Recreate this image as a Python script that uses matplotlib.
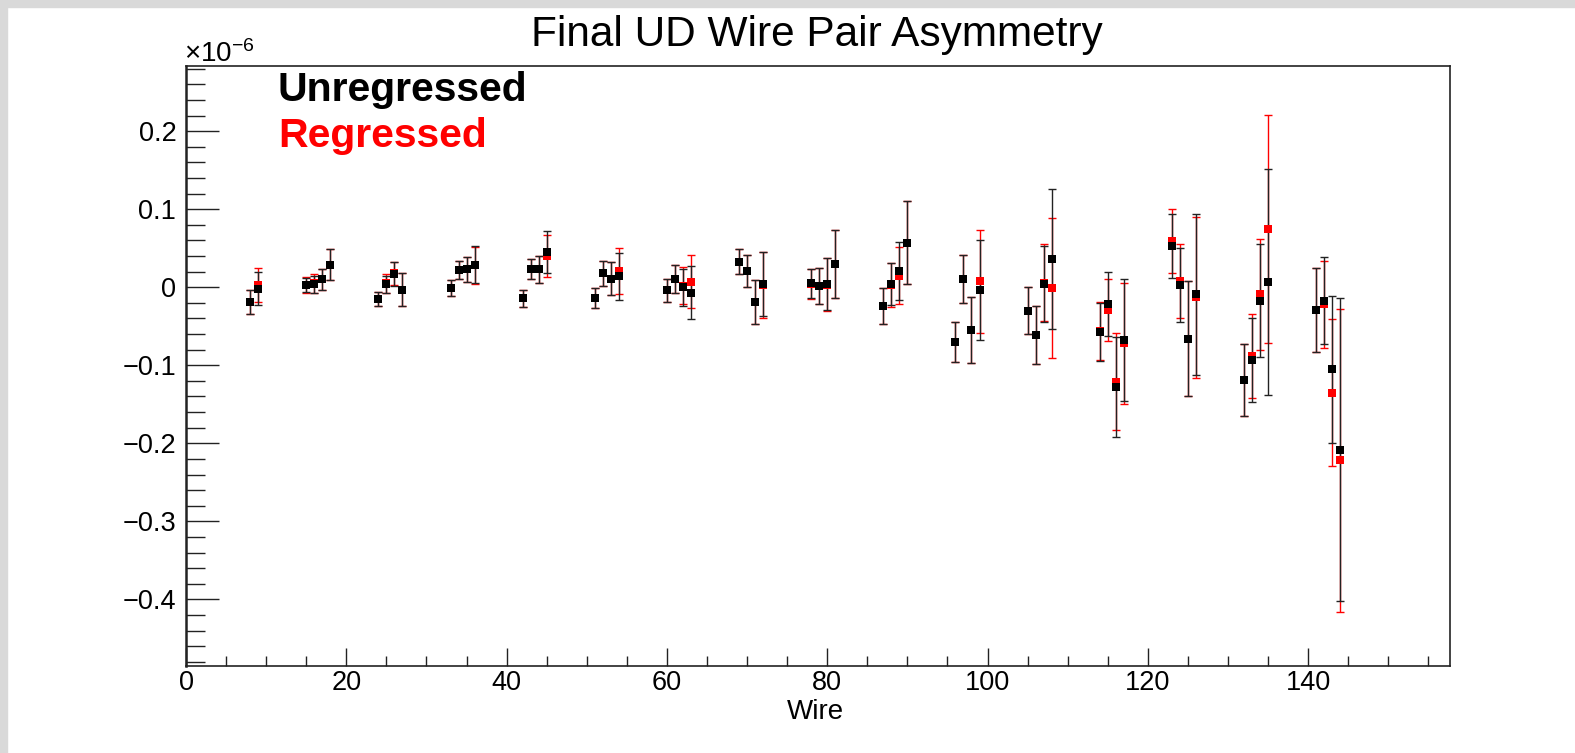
import matplotlib
matplotlib.use("Agg")
import matplotlib.pyplot as plt
from matplotlib.ticker import MultipleLocator, FuncFormatter
from matplotlib.patches import Rectangle

# values are in units of 1e-6
wires = [8, 9, 15, 16, 17, 18, 24, 25, 26, 27, 33, 34, 35, 36, 42, 43, 44, 45,
         51, 52, 53, 54, 60, 61, 62, 63, 69, 70, 71, 72, 78, 79, 80, 81,
         87, 88, 89, 90, 96, 97, 98, 99, 105, 106, 107, 108, 114, 115, 116, 117,
         123, 124, 125, 126, 132, 133, 134, 135, 141, 142, 143, 144]

unregressed = [-0.019, -0.002, 0.003, 0.004, 0.010, 0.029, -0.015, 0.004, 0.017, -0.003,
               -0.001, 0.022, 0.023, 0.029, -0.014, 0.023, 0.023, 0.045,
               -0.014, 0.018, 0.011, 0.014, -0.004, 0.011, 0.000, -0.007,
               0.033, 0.021, -0.019, 0.004, 0.005, 0.002, 0.004, 0.030,
               -0.024, 0.004, 0.021, 0.057, -0.070, 0.011, -0.055, -0.004,
               -0.030, -0.061, 0.004, 0.036, -0.057, -0.021, -0.128, -0.068,
               0.053, 0.003, -0.066, -0.009, -0.119, -0.093, -0.017, 0.007,
               -0.029, -0.017, -0.105, -0.208]
unregressed_err = [0.015, 0.021, 0.009, 0.011, 0.014, 0.020, 0.009, 0.011, 0.015, 0.021,
                   0.010, 0.012, 0.016, 0.024, 0.011, 0.013, 0.017, 0.027,
                   0.013, 0.016, 0.021, 0.030, 0.015, 0.018, 0.024, 0.034,
                   0.016, 0.020, 0.028, 0.041, 0.019, 0.023, 0.033, 0.044,
                   0.023, 0.027, 0.037, 0.053, 0.026, 0.031, 0.042, 0.064,
                   0.030, 0.037, 0.049, 0.090, 0.037, 0.041, 0.064, 0.078,
                   0.041, 0.047, 0.074, 0.103, 0.046, 0.054, 0.072, 0.145,
                   0.054, 0.056, 0.094, 0.194]

regressed = [-0.019, 0.003, 0.003, 0.005, 0.010, 0.029, -0.015, 0.005, 0.018, -0.003,
             -0.001, 0.022, 0.023, 0.028, -0.014, 0.023, 0.023, 0.040,
             -0.014, 0.018, 0.011, 0.021, -0.004, 0.011, 0.002, 0.007,
             0.033, 0.021, -0.019, 0.003, 0.004, 0.002, 0.003, 0.030,
             -0.024, 0.003, 0.015, 0.057, -0.070, 0.011, -0.055, 0.008,
             -0.030, -0.061, 0.006, -0.001, -0.056, -0.029, -0.121, -0.072,
             0.059, 0.008, -0.066, -0.013, -0.119, -0.088, -0.009, 0.075,
             -0.029, -0.022, -0.135, -0.222]
regressed_err = [0.015, 0.022, 0.010, 0.012, 0.014, 0.020, 0.009, 0.012, 0.015, 0.021,
                 0.010, 0.012, 0.016, 0.024, 0.011, 0.013, 0.017, 0.027,
                 0.013, 0.016, 0.021, 0.030, 0.015, 0.018, 0.024, 0.034,
                 0.016, 0.020, 0.028, 0.042, 0.019, 0.023, 0.034, 0.044,
                 0.023, 0.028, 0.037, 0.053, 0.026, 0.031, 0.042, 0.066,
                 0.030, 0.037, 0.049, 0.090, 0.037, 0.040, 0.062, 0.078,
                 0.041, 0.047, 0.074, 0.103, 0.046, 0.054, 0.071, 0.146,
                 0.054, 0.056, 0.094, 0.194]

FONT = "Liberation Sans"
W, H = 1575, 753


def minus_fmt(v, pos):
    s = f"{v:.1f}" if abs(v) > 1e-9 else "0"
    return s.replace("-", "\u2212")


def main():
    plt.rcParams['font.family'] = [FONT, 'DejaVu Sans']
    plt.rcParams['mathtext.fontset'] = 'custom'
    plt.rcParams['mathtext.rm'] = FONT
    plt.rcParams['mathtext.it'] = FONT
    plt.rcParams['mathtext.bf'] = FONT + ':bold'

    fig = plt.figure(figsize=(W / 100, H / 100), dpi=100)
    fig.patch.set_facecolor('white')
    # grey strip along top and left edge
    fig.patches.append(Rectangle((0, 1 - 7 / H), 1, 7 / H, transform=fig.transFigure,
                                 color='#d9d9d9', zorder=0))
    fig.patches.append(Rectangle((0, 0), 7 / W, 1, transform=fig.transFigure,
                                 color='#d9d9d9', zorder=0))

    ax = fig.add_axes([186 / W, 1 - 666 / H, (1450 - 186) / W, (666 - 66) / H])

    # error bars first (red under black), then markers
    ax.errorbar(wires, regressed, yerr=regressed_err, fmt='none', ecolor='red',
                elinewidth=1.0, capsize=3, capthick=1.0, zorder=2)
    ax.errorbar(wires, unregressed, yerr=unregressed_err, fmt='none', ecolor='#222222',
                elinewidth=1.0, capsize=3, capthick=1.0, zorder=3)
    ax.plot(wires, regressed, 's', color='red', ms=6.0, mew=0, zorder=4)
    ax.plot(wires, unregressed, 's', color='black', ms=6.0, mew=0, zorder=5)

    ax.set_xlim(0, 157.7)
    ax.set_ylim(-0.4855, 0.2837)

    ax.xaxis.set_major_locator(MultipleLocator(20))
    ax.xaxis.set_minor_locator(MultipleLocator(5))
    ax.yaxis.set_major_locator(MultipleLocator(0.1))
    ax.yaxis.set_minor_locator(MultipleLocator(0.02))
    ax.yaxis.set_major_formatter(FuncFormatter(minus_fmt))

    ax.tick_params(axis='both', which='both', direction='in', top=False, right=False,
                   width=1.0, colors='#222222', labelcolor='black', labelsize=19.5)
    ax.tick_params(axis='y', which='major', length=23.5, pad=7)
    ax.tick_params(axis='y', which='minor', length=13.5)
    ax.tick_params(axis='x', which='major', length=13, pad=3)
    ax.tick_params(axis='x', which='minor', length=7.2)
    for sp in ax.spines.values():
        sp.set_linewidth(1.2)
        sp.set_color('#222222')
    ax.spines['left'].set_linewidth(1.8)

    fig.text(817 / W, 1 - 35 / H, "Final UD Wire Pair Asymmetry", ha='center',
             va='center', fontsize=30.5)
    fig.text(815 / W, 1 - 712 / H, "Wire", ha='center', va='center', fontsize=20)
    fig.text(184 / W, 1 - 62 / H, r"$\times10^{-6}$", ha='left', va='baseline', fontsize=20)

    fig.text(278 / W, 1 - 101 / H, "Unregressed", ha='left', va='baseline',
             fontsize=29.5, fontweight='bold', color='black')
    fig.text(278 / W, 1 - 147 / H, "Regressed", ha='left', va='baseline',
             fontsize=29.5, fontweight='bold', color='red')

    plt.savefig('out.png', dpi=100)
    plt.close()


if __name__ == "__main__":
    main()
